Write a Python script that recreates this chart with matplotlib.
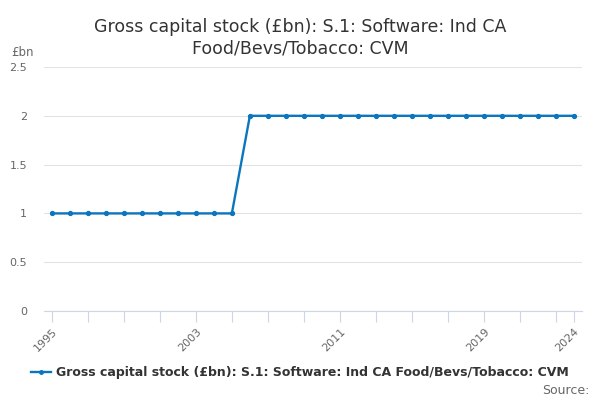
import matplotlib.pyplot as plt
from matplotlib.lines import Line2D

years = list(range(1995, 2025))
values = [1] * 11 + [2] * 19
tick_years = list(range(1995, 2024, 2)) + [2024]
label_years = [1995, 2003, 2011, 2019, 2024]

title = 'Gross capital stock (£bn): S.1: Software: Ind CA\nFood/Bevs/Tobacco: CVM'
series_name = 'Gross capital stock (£bn): S.1: Software: Ind CA Food/Bevs/Tobacco: CVM'

line_col = '#0b76bd'
grid_col = '#e3e3e3'
axis_col = '#ccd6eb'
text_col = '#666666'

fig = plt.figure(figsize=(6, 4), dpi=100)
ax = fig.add_axes([0.073, 0.2225, 0.897, 0.61])

ax.plot(years, values, color=line_col, lw=1.7, marker='o', ms=2.8, zorder=3)

ax.set_xlim(1995 - 8 / 18, 2024 + 8 / 18)
ax.set_ylim(0, 2.5)
ax.set_yticks([0, 0.5, 1, 1.5, 2, 2.5])
ax.set_yticklabels(['0', '0.5', '1', '1.5', '2', '2.5'])
ax.grid(axis='y', color=grid_col, lw=0.8)
ax.set_axisbelow(True)

ax.set_xticks(tick_years)
ax.set_xticklabels([str(y) if y in label_years else '' for y in tick_years],
                   rotation=45, ha='right', rotation_mode='anchor')

for s in ['top', 'right', 'left']:
    ax.spines[s].set_visible(False)
ax.spines['bottom'].set_color(axis_col)
ax.tick_params(axis='x', colors=axis_col, length=8, labelcolor=text_col, labelsize=8, pad=3)
ax.tick_params(axis='y', length=0, labelcolor=text_col, labelsize=8, pad=12)

fig.text(0.5, 0.955, title, ha='center', va='top', fontsize=12.5, color='#333333', linespacing=1.25)
fig.text(0.018, 0.87, '£bn', fontsize=8.5, color=text_col, va='center')

handle = Line2D([], [], color=line_col, lw=1.7, marker='o', ms=2.5)
leg = fig.legend([handle], [series_name], loc='center', bbox_to_anchor=(0.5, 0.068),
                 frameon=False, handlelength=1.6, handletextpad=0.4,
                 prop={'weight': 'bold', 'size': 9})
for t in leg.get_texts():
    t.set_color('#333333')
fig.text(0.982, 0.025, 'Source:', ha='right', va='center', fontsize=9, color=text_col)

fig.savefig('out.png')
